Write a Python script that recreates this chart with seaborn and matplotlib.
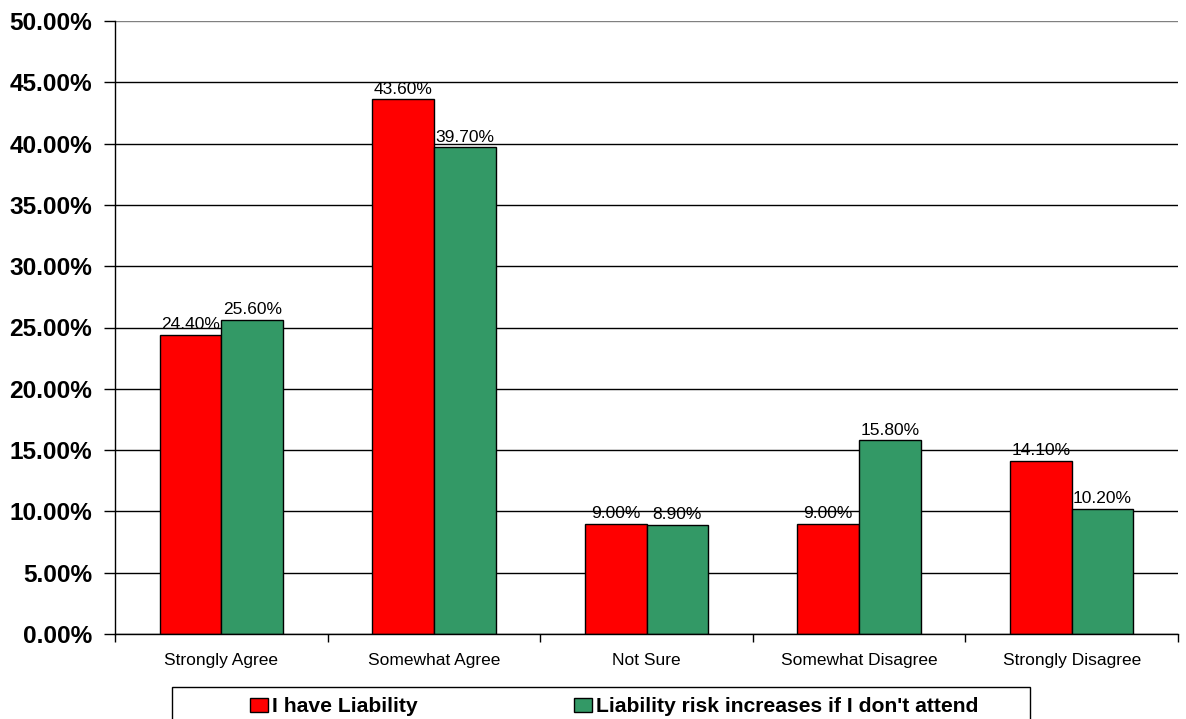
import pandas as pd
import matplotlib.pyplot as plt
import seaborn as sns
from matplotlib.patches import Rectangle
from matplotlib.ticker import FuncFormatter

categories = ["Strongly Agree", "Somewhat Agree", "Not Sure", "Somewhat Disagree", "Strongly Disagree"]
series_names = ["I have Liability", "Liability risk increases if I don't attend"]
liability = [24.4, 43.6, 9.0, 9.0, 14.1]
risk_increase = [25.6, 39.7, 8.9, 15.8, 10.2]
y_ticks = [0, 5, 10, 15, 20, 25, 30, 35, 40, 45, 50]

df = pd.DataFrame({
    "category": categories * 2,
    "series": [series_names[0]] * len(categories) + [series_names[1]] * len(categories),
    "value": liability + risk_increase,
})
palette = {series_names[0]: "#FF0000", series_names[1]: "#339966"}

sns.set_style("white")
plt.rcParams["font.family"] = ["Liberation Sans", "DejaVu Sans"]
plt.rcParams["text.color"] = "black"
plt.rcParams["xtick.color"] = "black"
plt.rcParams["ytick.color"] = "black"

fig = plt.figure(figsize=(11.86, 7.19), dpi=100)
ax = fig.add_axes([115 / 1186, 1 - 634 / 719, (1178 - 115) / 1186, (634 - 21) / 719])

sns.barplot(data=df, x="category", y="value", hue="series", order=categories,
            hue_order=series_names, palette=palette, width=0.58, saturation=1,
            edgecolor="black", linewidth=1, ax=ax)

for cont in ax.containers:
    ax.bar_label(cont, fmt="%.2f%%", padding=2, fontsize=12.5, color="black")

ax.set_ylim(0, 50)
ax.set_xlim(-0.5, len(categories) - 0.5)
ax.set_yticks(y_ticks)
ax.yaxis.set_major_formatter(FuncFormatter(lambda v, p: f"{v:.2f}%"))
ax.set_xlabel("")
ax.set_ylabel("")
ax.set_axisbelow(True)
ax.yaxis.grid(True, color="black", linewidth=1)
ax.get_ygridlines()[-1].set_color("#808080")

for s in ["top", "right"]:
    ax.spines[s].set_visible(False)
for s in ["left", "bottom"]:
    ax.spines[s].set_color("black")
    ax.spines[s].set_linewidth(1)

ax.tick_params(axis="y", direction="out", length=8, width=1, left=True, labelsize=17.6, pad=8.6)
for lbl in ax.get_yticklabels():
    lbl.set_fontweight("bold")
ax.tick_params(axis="x", which="major", length=0, labelsize=12.5, pad=14)
ax.set_xticks([i - 0.5 for i in range(len(categories) + 1)], minor=True)
ax.tick_params(axis="x", which="minor", direction="out", length=6, width=1, bottom=True)

ax.legend_.remove()
handles, labels = ax.get_legend_handles_labels()
fig.legend(handles, labels, loc="center left", ncol=2,
           bbox_to_anchor=(250 / 1186, 1 - 707 / 719),
           frameon=False, prop={"weight": "bold", "size": 15.2},
           handlelength=0.85, handleheight=0.62, handletextpad=0.19,
           columnspacing=7.4, borderaxespad=0, borderpad=0)
# legend box, cut off by the bottom edge as in the original
fig.patches.append(Rectangle((172 / 1186, -0.05), (1030 - 172) / 1186, 0.05 + (719 - 687) / 719,
                             transform=fig.transFigure, fill=False, edgecolor="black",
                             linewidth=1))

fig.savefig("out.png", dpi=100)
